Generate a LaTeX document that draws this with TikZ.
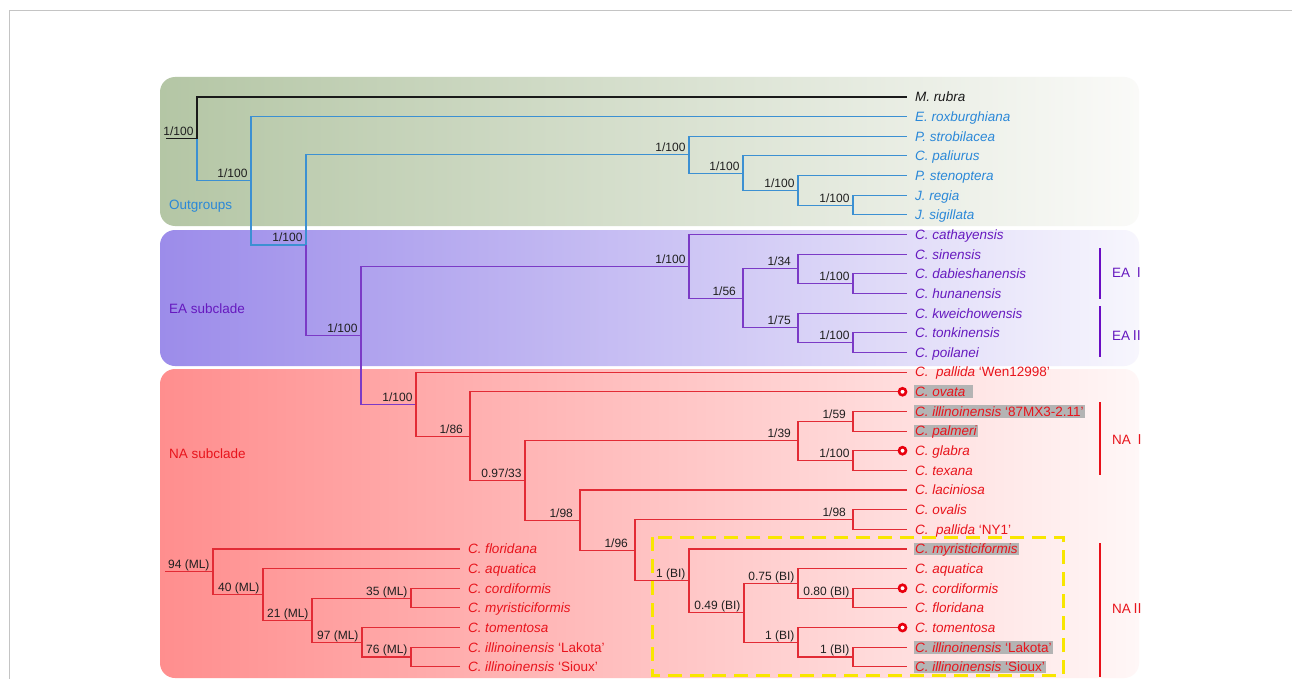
\documentclass[tikz,border=0pt]{standalone}
\usepackage{fontspec}
\setmainfont{Liberation Sans}
\newfontfamily\cjkf{Noto Sans CJK SC}
\usetikzlibrary{calc}
\definecolor{lineb}{HTML}{3C90D2}
\definecolor{textb}{HTML}{2B88D8}
\definecolor{linep}{HTML}{7B3AC6}
\definecolor{textp}{HTML}{6619BF}
\definecolor{liner}{HTML}{E22B35}
\definecolor{textr}{HTML}{E8141C}
\definecolor{linek}{HTML}{1A1A1A}
\definecolor{hlgray}{HTML}{B4B4B4}
\definecolor{ringred}{HTML}{E8000E}
\definecolor{ylw}{HTML}{F8E600}
\definecolor{brp}{HTML}{6A0DC4}
\definecolor{brr}{HTML}{E8101A}
\definecolor{framegray}{HTML}{C4C4C4}
\definecolor{ogL}{HTML}{B4C6A5}
\definecolor{ogR}{HTML}{FAFAF8}
\definecolor{eaL}{HTML}{9C8CEA}
\definecolor{eaR}{HTML}{F7F6FD}
\definecolor{naL}{HTML}{FF8E8E}
\definecolor{naR}{HTML}{FFF7F7}
\begin{document}
\begin{tikzpicture}[x=1pt,y=-1pt,
  declare function={rowy(\i)=97+19.65*\i;},
  ln/.style={line width=1.1pt},
  bk/.style={ln,draw=linek},
  bl/.style={ln,draw=lineb},
  pu/.style={ln,draw=linep},
  rd/.style={ln,draw=liner},
  supb/.style={inner sep=0pt,text depth=0pt,font=\fontsize{12}{12}\selectfont,text=black!88,yshift=2.5pt},
  supl/.style={supb,anchor=south east,xshift=-3pt},
  supw/.style={supb,anchor=south west,xshift=-31pt},
  tip/.style={anchor=west,inner xsep=1.5pt,inner ysep=1.5pt,outer xsep=6.5pt,outer ysep=0pt,text height=9.7pt,text depth=0pt,font=\fontsize{13.5}{14}\selectfont\itshape},
  hl/.style={fill=hlgray},
  ring/.style={circle,draw=ringred,fill=white,line width=2.6pt,minimum size=7pt,inner sep=0pt},
  grp/.style={anchor=west,inner sep=0pt,font=\fontsize{13.5}{14}\selectfont},
  brk/.style={line width=2.5pt}
]
\useasboundingbox (0,0) rectangle (1292,679);
\fill[white] (0,0) rectangle (1292,679);
\draw[framegray,line width=1pt] (9,679) -- (9,11) -- (1292,11);

% backgrounds
\shade[left color=ogL,right color=ogR,rounded corners=15pt] (160,77) rectangle (1139,226);
\shade[left color=eaL,right color=eaR,rounded corners=15pt] (160,230) rectangle (1139,366);
\shade[left color=naL,right color=naR,rounded corners=15pt] (160,369) rectangle (1139,678);

% group labels
\node[grp,text=textb] (gout) at (169,206) {Outgroups};
\node[grp,text=textp] (gea) at (169,309) {EA subclade};
\node[grp,text=textr] (gna) at (169,454) {NA subclade};

% tips
\node[tip,text=linek] (t0) at (907,{rowy(0)}) {M. rubra};
\node[tip,text=textb] (t1) at (907,{rowy(1)}) {E. roxburghiana};
\node[tip,text=textb] (t2) at (907,{rowy(2)}) {P. strobilacea};
\node[tip,text=textb] (t3) at (907,{rowy(3)}) {C. paliurus};
\node[tip,text=textb] (t4) at (907,{rowy(4)}) {P. stenoptera};
\node[tip,text=textb] (t5) at (907,{rowy(5)}) {J. regia};
\node[tip,text=textb] (t6) at (907,{rowy(6)}) {J. sigillata};
\node[tip,text=textp] (t7) at (907,{rowy(7)}) {C. cathayensis};
\node[tip,text=textp] (t8) at (907,{rowy(8)}) {C. sinensis};
\node[tip,text=textp] (t9) at (907,{rowy(9)}) {C. dabieshanensis};
\node[tip,text=textp] (t10) at (907,{rowy(10)}) {C. hunanensis};
\node[tip,text=textp] (t11) at (907,{rowy(11)}) {C. kweichowensis};
\node[tip,text=textp] (t12) at (907,{rowy(12)}) {C. tonkinensis};
\node[tip,text=textp] (t13) at (907,{rowy(13)}) {C. poilanei};
\node[tip,text=textr] (t14) at (907,{rowy(14)}) {C.\ \ pallida \textup{‘Wen12998’}};
\node[tip,text=textr,hl] (t15) at (907,{rowy(15)}) {C. ovata\hspace*{6pt}};
\node[tip,text=textr,hl] (t16) at (907,{rowy(16)}) {C. illinoinensis \textup{‘87MX3-2.11’}};
\node[tip,text=textr,hl] (t17) at (907,{rowy(17)}) {C. palmeri};
\node[tip,text=textr] (t18) at (907,{rowy(18)}) {C. glabra};
\node[tip,text=textr] (t19) at (907,{rowy(19)}) {C. texana};
\node[tip,text=textr] (t20) at (907,{rowy(20)}) {C. laciniosa};
\node[tip,text=textr] (t21) at (907,{rowy(21)}) {C. ovalis};
\node[tip,text=textr] (t22) at (907,{rowy(22)}) {C.\ \ pallida \textup{‘NY1’}};
\node[tip,text=textr,hl] (t23) at (907,{rowy(23)}) {C. myristiciformis};
\node[tip,text=textr] (t24) at (907,{rowy(24)}) {C. aquatica};
\node[tip,text=textr] (t25) at (907,{rowy(25)}) {C. cordiformis};
\node[tip,text=textr] (t26) at (907,{rowy(26)}) {C. floridana};
\node[tip,text=textr] (t27) at (907,{rowy(27)}) {C. tomentosa};
\node[tip,text=textr,hl] (t28) at (907,{rowy(28)}) {C. illinoinensis \textup{‘Lakota’}};
\node[tip,text=textr,hl] (t29) at (907,{rowy(29)}) {C. illinoinensis \textup{‘Sioux’}};

% ML tips
\node[tip,text=textr] (u23) at (460,{rowy(23)}) {C. floridana};
\node[tip,text=textr] (u24) at (460,{rowy(24)}) {C. aquatica};
\node[tip,text=textr] (u25) at (460,{rowy(25)}) {C. cordiformis};
\node[tip,text=textr] (u26) at (460,{rowy(26)}) {C. myristiciformis};
\node[tip,text=textr] (u27) at (460,{rowy(27)}) {C. tomentosa};
\node[tip,text=textr] (u28) at (460,{rowy(28)}) {C. illinoinensis \textup{‘Lakota’}};
\node[tip,text=textr] (u29) at (460,{rowy(29)}) {C. illinoinensis \textup{‘Sioux’}};

% internal nodes
\coordinate (s0) at (166,{rowy(2.1331)});
\coordinate (R0) at (197,{rowy(2.1331)});
\coordinate (n2) at (251,{rowy(4.2661)});
\coordinate (n3) at (306,{rowy(7.5322)});
\coordinate (n4) at (361,{rowy(12.127)});
\coordinate (n5) at (416,{rowy(15.6289)});
\coordinate (n6) at (470,{rowy(17.2578)});
\coordinate (n7) at (525,{rowy(19.5156)});
\coordinate (n8) at (580,{rowy(21.5313)});
\coordinate (n9) at (635,{rowy(23.0625)});
\coordinate (oa) at (689,{rowy(2.9375)});
\coordinate (ob) at (743,{rowy(3.875)});
\coordinate (oc) at (798,{rowy(4.75)});
\coordinate (od) at (853,{rowy(5.5)});
\coordinate (ea) at (689,{rowy(8.625)});
\coordinate (e5) at (743,{rowy(10.25)});
\coordinate (e2) at (798,{rowy(8.75)});
\coordinate (e1) at (853,{rowy(9.5)});
\coordinate (e4) at (798,{rowy(11.75)});
\coordinate (e3) at (853,{rowy(12.5)});
\coordinate (na1) at (798,{rowy(17.5)});
\coordinate (na2) at (853,{rowy(16.5)});
\coordinate (na3) at (853,{rowy(18.5)});
\coordinate (o1) at (853,{rowy(21.5)});
\coordinate (bi1) at (689,{rowy(24.625)});
\coordinate (bi2) at (744,{rowy(26.25)});
\coordinate (bi3) at (798,{rowy(24.75)});
\coordinate (bi5) at (853,{rowy(25.5)});
\coordinate (bi4) at (798,{rowy(27.75)});
\coordinate (bi6) at (853,{rowy(28.5)});
\coordinate (ms) at (165,{rowy(24.1563)});
\coordinate (m0) at (213,{rowy(24.1563)});
\coordinate (m1) at (263,{rowy(25.3125)});
\coordinate (m2) at (312,{rowy(26.625)});
\coordinate (m3) at (411,{rowy(25.5)});
\coordinate (m4) at (362,{rowy(27.75)});
\coordinate (m5) at (411,{rowy(28.5)});

% outgroup branches
\draw[bk] (s0) -- (R0) node[supl]{1/100};
\draw[bk] (R0) |- (t0);
\draw[bl] (R0) |- (n2) node[supl]{1/100};
\draw[bl] (n2) |- (t1);
\draw[bl] (n2) |- (n3) node[supl]{1/100};
\draw[bl] (n3) |- (oa) node[supl]{1/100};
\draw[bl] (oa) |- (t2);
\draw[bl] (oa) |- (ob) node[supl]{1/100};
\draw[bl] (ob) |- (t3);
\draw[bl] (ob) |- (oc) node[supl]{1/100};
\draw[bl] (oc) |- (t4);
\draw[bl] (oc) |- (od) node[supl]{1/100};
\draw[bl] (od) |- (t5);
\draw[bl] (od) |- (t6);

% EA branches
\draw[pu] (n3) |- (n4) node[supl]{1/100};
\draw[pu] (n4) |- (ea) node[supl]{1/100};
\draw[pu] (n4) |- (n5) node[supl]{1/100};
\draw[pu] (ea) |- (t7);
\draw[pu] (ea) |- (e5) node[supw]{1/56};
\draw[pu] (e5) |- (e2) node[supw]{1/34};
\draw[pu] (e5) |- (e4) node[supw]{1/75};
\draw[pu] (e2) |- (t8);
\draw[pu] (e2) |- (e1) node[supl]{1/100};
\draw[pu] (e1) |- (t9);
\draw[pu] (e1) |- (t10);
\draw[pu] (e4) |- (t11);
\draw[pu] (e4) |- (e3) node[supl]{1/100};
\draw[pu] (e3) |- (t12);
\draw[pu] (e3) |- (t13);

% NA branches
\draw[rd] (n5) |- (t14);
\draw[rd] (n5) |- (n6) node[supw]{1/86};
\draw[rd] (n6) |- (t15);
\draw[rd] (n6) |- (n7) node[supl]{0.97/33};
\draw[rd] (n7) |- (na1) node[supw]{1/39};
\draw[rd] (n7) |- (n8) node[supw]{1/98};
\draw[rd] (na1) |- (na2) node[supw]{1/59};
\draw[rd] (na1) |- (na3) node[supl]{1/100};
\draw[rd] (na2) |- (t16);
\draw[rd] (na2) |- (t17);
\draw[rd] (na3) |- (t18);
\draw[rd] (na3) |- (t19);
\draw[rd] (n8) |- (t20);
\draw[rd] (n8) |- (n9) node[supw]{1/96};
\draw[rd] (n9) |- (o1) node[supw]{1/98};
\draw[rd] (o1) |- (t21);
\draw[rd] (o1) |- (t22);
\draw[rd] (n9) |- (bi1) node[supl]{1 (BI)};
\draw[rd] (bi1) |- (t23);
\draw[rd] (bi1) |- (bi2) node[supl]{0.49 (BI)};
\draw[rd] (bi2) |- (bi3) node[supl]{0.75 (BI)};
\draw[rd] (bi2) |- (bi4) node[supl]{1 (BI)};
\draw[rd] (bi3) |- (t24);
\draw[rd] (bi3) |- (bi5) node[supl]{0.80 (BI)};
\draw[rd] (bi5) |- (t25);
\draw[rd] (bi5) |- (t26);
\draw[rd] (bi4) |- (t27);
\draw[rd] (bi4) |- (bi6) node[supl]{1 (BI)};
\draw[rd] (bi6) |- (t28);
\draw[rd] (bi6) |- (t29);

% ML tree
\draw[rd] (ms) -- (m0) node[supl]{94 (ML)};
\draw[rd] (m0) |- (u23);
\draw[rd] (m0) |- (m1) node[supl]{40 (ML)};
\draw[rd] (m1) |- (u24);
\draw[rd] (m1) |- (m2) node[supl]{21 (ML)};
\draw[rd] (m2) |- (m3) node[supl]{35 (ML)};
\draw[rd] (m2) |- (m4) node[supl]{97 (ML)};
\draw[rd] (m3) |- (u25);
\draw[rd] (m3) |- (u26);
\draw[rd] (m4) |- (u27);
\draw[rd] (m4) |- (m5) node[supl]{76 (ML)};
\draw[rd] (m5) |- (u28);
\draw[rd] (m5) |- (u29);

% ring markers
\node[ring] (k15) at (902.5,{rowy(15)}) {};
\node[ring] (k18) at (902.5,{rowy(18)}) {};
\node[ring] (k25) at (902.5,{rowy(25)}) {};
\node[ring] (k27) at (902.5,{rowy(27)}) {};

% dashed box
\draw[ylw,line width=3pt,dash pattern=on 14pt off 8pt] (652,537) rectangle (1063,675);

% brackets
\draw[brk,brp] (1100,248) -- (1100,299);
\draw[brk,brp] (1100,306) -- (1100,357);
\draw[brk,brr] (1100,402) -- (1100,475);
\draw[brk,brr] (1100,543) -- (1100,677);
\node[grp,text=textp] (lea1) at (1112,273) {EA\hspace{2pt}{\cjkf Ⅰ}};
\node[grp,text=textp] (lea2) at (1112,336) {EA{\cjkf Ⅱ}};
\node[grp,text=textr] (lna1) at (1112,440) {NA\hspace{2pt}{\cjkf Ⅰ}};
\node[grp,text=textr] (lna2) at (1112,609) {NA{\cjkf Ⅱ}};
\end{tikzpicture}
\end{document}
